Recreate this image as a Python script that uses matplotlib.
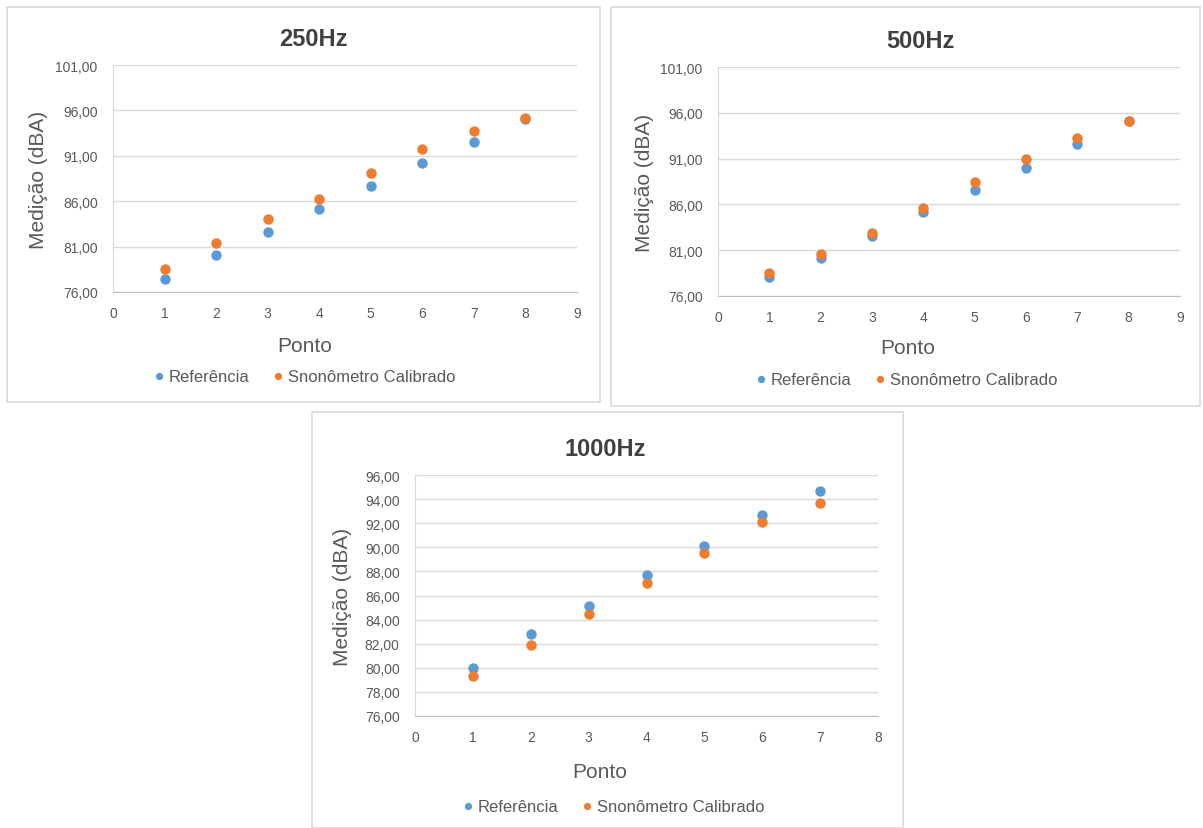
import numpy as np
import matplotlib.pyplot as plt
from matplotlib.patches import Rectangle
from matplotlib.ticker import FuncFormatter, MultipleLocator

plt.rcParams['font.family'] = ['Liberation Sans', 'DejaVu Sans']

# Medições por ponto (dBA)
pontos_8 = [1, 2, 3, 4, 5, 6, 7, 8]
pontos_7 = [1, 2, 3, 4, 5, 6, 7]

ref_250 = [77.4, 80.1, 82.6, 85.1, 87.7, 90.2, 92.5, 95.0]
cal_250 = [78.5, 81.4, 84.0, 86.2, 89.1, 91.7, 93.7, 95.2]

ref_500 = [78.1, 80.1, 82.5, 85.2, 87.6, 90.0, 92.6, 95.1]
cal_500 = [78.5, 80.6, 82.9, 85.6, 88.4, 91.0, 93.3, 95.1]

ref_1000 = [80.0, 82.8, 85.1, 87.7, 90.1, 92.7, 94.7]
cal_1000 = [79.3, 81.9, 84.5, 87.0, 89.5, 92.1, 93.7]

AZUL = '#5B9BD5'
LARANJA = '#ED7D31'
CINZA_TXT = '#595959'
CINZA_GRADE = '#D9D9D9'

W, H = 1203, 829
fig = plt.figure(figsize=(W / 100, H / 100), dpi=100)


def px_rect(x0, y0, x1, y1):
    # pixel box (top-left origin) -> figure fraction [left, bottom, width, height]
    return [x0 / W, 1 - y1 / H, (x1 - x0) / W, (y1 - y0) / H]


def virgula(v, pos):
    return f'{v:.2f}'.replace('.', ',')


def painel(frame, area, titulo, title_xy, x, ref, cal, xmax, ymin, ymax, ystep,
           ylab_x, xlab_xy, leg_xy):
    fx0, fy0, fx1, fy1 = frame
    fig.patches.append(Rectangle((fx0 / W, 1 - fy1 / H), (fx1 - fx0) / W, (fy1 - fy0) / H,
                                 transform=fig.transFigure, fill=False,
                                 edgecolor=CINZA_GRADE, linewidth=1.2))
    ax = fig.add_axes(px_rect(*area))
    ax.plot(x, ref, 'o', color=AZUL, markersize=6.5, label='Referência')
    ax.plot(x, cal, 'o', color=LARANJA, markersize=6.5, label='Snonômetro Calibrado')
    ax.set_xlim(0, xmax)
    ax.set_ylim(ymin, ymax)
    ax.xaxis.set_major_locator(MultipleLocator(1))
    ax.set_yticks(np.arange(ymin, ymax + ystep / 2, ystep))
    ax.yaxis.set_major_formatter(FuncFormatter(virgula))
    ax.grid(axis='y', color=CINZA_GRADE, linewidth=1)
    ax.set_axisbelow(True)
    for s in ['top', 'right']:
        ax.spines[s].set_visible(False)
    ax.spines['left'].set_color(CINZA_GRADE)
    ax.spines['bottom'].set_color('#BFBFBF')
    ax.tick_params(length=0, labelsize=10, colors=CINZA_TXT)
    ax.tick_params(axis='y', pad=11)
    ax.tick_params(axis='x', pad=10)
    fig.text(title_xy[0] / W, 1 - title_xy[1] / H, titulo, ha='center', va='center',
             fontsize=17, fontweight='bold', color='#404040')
    fig.text(ylab_x / W, 1 - (area[1] + area[3]) / 2 / H, 'Medição (dBA)', rotation=90,
             ha='center', va='center', fontsize=15, color=CINZA_TXT)
    fig.text(xlab_xy[0] / W, 1 - xlab_xy[1] / H, 'Ponto', ha='center',
             va='center', fontsize=15, color=CINZA_TXT)
    fig.legend(handles=ax.get_lines(), loc='center', ncol=2,
               bbox_to_anchor=(leg_xy[0] / W, 1 - leg_xy[1] / H), frameon=False,
               fontsize=12, labelcolor=CINZA_TXT, handletextpad=0.1, columnspacing=1.2,
               markerscale=0.65, handlelength=1)
    return ax


painel((7, 8, 600, 403), (113, 66, 577, 293), '250Hz', (313, 40), pontos_8,
       ref_250, cal_250, 9, 76, 101, 5, 38, (305, 347), (303, 378))
painel((611, 8, 1200, 407), (718, 68, 1180, 297), '500Hz', (920, 42), pontos_8,
       ref_500, cal_500, 9, 76, 101, 5, 645, (908, 349), (905, 381))
painel((312, 413, 903, 829), (415, 476, 878, 717), '1000Hz', (605, 450), pontos_7,
       ref_1000, cal_1000, 8, 76, 96, 2, 342, (600, 773), (612, 808))

fig.savefig('out.png', dpi=100)
